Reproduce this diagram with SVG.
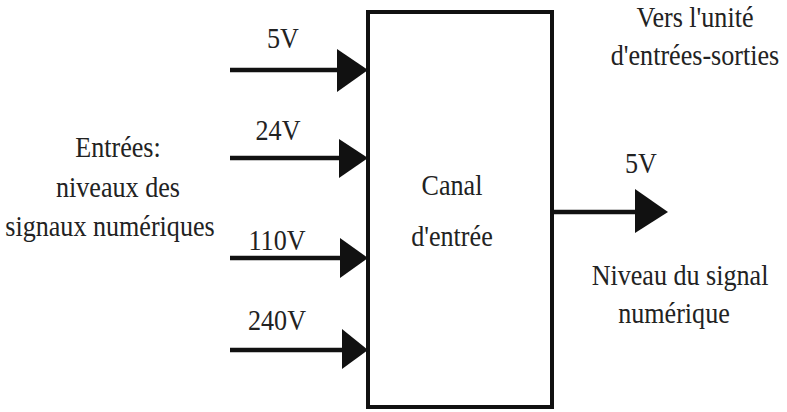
<svg xmlns="http://www.w3.org/2000/svg" width="787" height="412" viewBox="0 0 787 412">
<style>
  text { font-family: "Liberation Serif", "DejaVu Serif", serif; font-size: 29px; fill: #222; text-anchor: middle; }
  .ln { stroke: #111; stroke-width: 4.5; fill: none; }
  .hd { fill: #111; }
</style>
<rect width="787" height="412" fill="#fff"/>
<g id="canal">
  <rect x="368" y="12" width="184" height="395" fill="#fff" stroke="#111" stroke-width="4"/>
  <g transform="scale(0.9 1)">
    <text x="502.2" y="195">Canal</text>
    <text x="502.2" y="246">d'entrée</text>
  </g>
</g>
<g id="entrees-label" transform="scale(0.9 1)">
  <text x="131.1" y="157">Entrées:</text>
  <text x="131.1" y="197">niveaux des</text>
  <text x="122.2" y="236">signaux numériques</text>
</g>
<g id="sortie-label" transform="scale(0.9 1)">
  <text x="772.2" y="27">Vers l'unité</text>
  <text x="772.2" y="65">d'entrées-sorties</text>
  <text x="755.6" y="285">Niveau du signal</text>
  <text x="748.9" y="323">numérique</text>
</g>
<g id="connectors">
  <line class="ln" x1="230" y1="70" x2="345" y2="70"/>
  <polygon class="hd" points="337,49 368,70 337,92"/>
  <line class="ln" x1="230" y1="158" x2="345" y2="158"/>
  <polygon class="hd" points="339,139 368,158 339,178"/>
  <line class="ln" x1="230" y1="258" x2="345" y2="258"/>
  <polygon class="hd" points="340,238 368,258 340,278"/>
  <line class="ln" x1="230" y1="350" x2="345" y2="350"/>
  <polygon class="hd" points="342,329 368,350 342,369"/>
  <line class="ln" x1="552" y1="212" x2="640" y2="212"/>
  <polygon class="hd" points="635,189 668,212 635,233"/>
  <g transform="scale(0.9 1)">
    <text x="314.4" y="48">5V</text>
    <text x="308.9" y="140">24V</text>
    <text x="307.8" y="250">110V</text>
    <text x="307.8" y="330">240V</text>
    <text x="712.2" y="173">5V</text>
  </g>
</g>
</svg>
